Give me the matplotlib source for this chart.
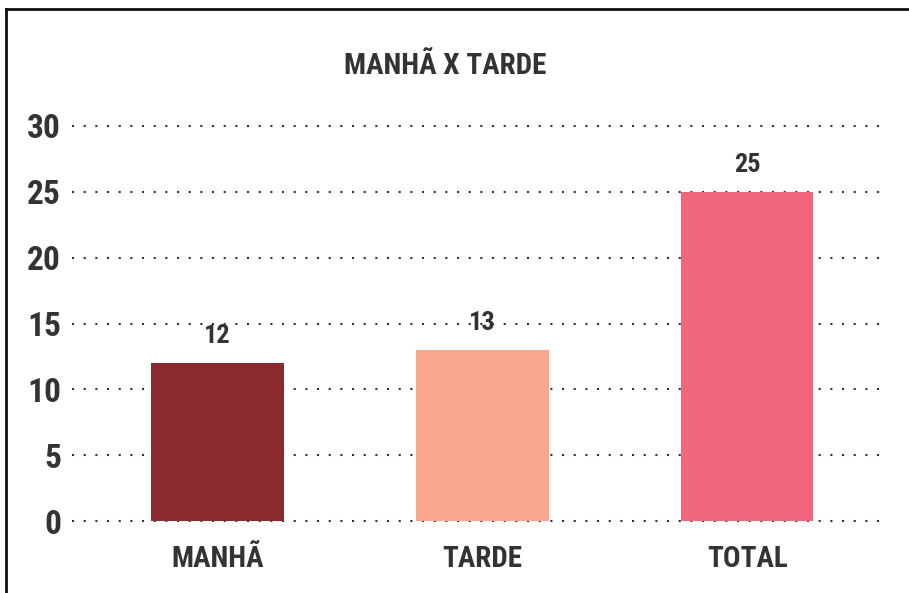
import matplotlib
matplotlib.use("Agg")
import matplotlib.pyplot as plt
from matplotlib.lines import Line2D

categories = ["MANHÃ", "TARDE", "TOTAL"]
values = [12, 13, 25]
colors = ["#8B2A2E", "#F8A68D", "#F0677D"]
yticks = [0, 5, 10, 15, 20, 25, 30]
title = "MANHÃ X TARDE"

plt.rcParams['font.family'] = ['Roboto Condensed', 'Liberation Sans Narrow', 'DejaVu Sans Condensed', 'Roboto', 'DejaVu Sans']
text_color = "#333333"

W, H = 909, 593
fig = plt.figure(figsize=(W / 100, H / 100), dpi=100)
ax = fig.add_axes([72 / W, 72 / H, (885 - 72) / W, (521 - 126) / H])

x = list(range(len(categories)))
ax.bar(x, values, width=0.5, color=colors, zorder=3)
ax.set_xlim(-0.55, 2.52)
ax.set_ylim(0, 30)
ax.set_yticks(yticks)
ax.set_xticks(x)
ax.set_xticklabels(categories)
for spine in ax.spines.values():
    spine.set_visible(False)
ax.tick_params(axis='both', length=0, colors=text_color)
ax.tick_params(axis='y', labelsize=24, pad=8)
ax.tick_params(axis='x', labelsize=21, pad=17)
for lab in ax.get_xticklabels() + ax.get_yticklabels():
    lab.set_fontweight('bold')
ax.yaxis.grid(True, linestyle=(0, (1, 4.6)), linewidth=1.5, color="#333333", zorder=1)
ax.set_axisbelow(True)
for ln in ax.get_ygridlines():
    ln.set_clip_on(False)

for xi, v in zip(x, values):
    ax.annotate(str(v), (xi, v), xytext=(0, 11), textcoords='offset points',
                ha='center', va='bottom', fontsize=19, fontweight='bold', color=text_color)

fig.text(445 / W, 1 - 66 / H, title, ha='center', va='center', fontsize=21,
         fontweight='bold', color=text_color)

# outer frame (top and left edges visible)
fig.add_artist(Line2D([6 / W, 1.0], [1 - 9 / H, 1 - 9 / H], transform=fig.transFigure,
                      color="#111111", linewidth=2))
fig.add_artist(Line2D([6 / W, 6 / W], [0, 1 - 9 / H], transform=fig.transFigure,
                      color="#111111", linewidth=2))

fig.savefig("out.png", dpi=100, facecolor="white")
